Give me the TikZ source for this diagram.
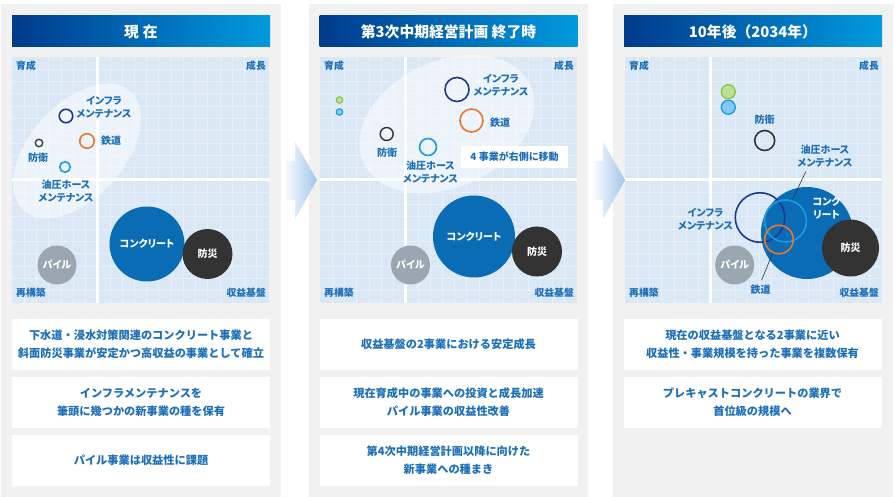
\documentclass[tikz,border=0pt]{standalone}
\usepackage{fontspec}
\setmainfont{Noto Sans CJK JP}
\newfontfamily\jpp{Noto Sans CJK JP}[RawFeature=+palt]
\definecolor{panelgray}{HTML}{F1F1F1}
\definecolor{chartbg}{HTML}{DAE8F6}
\definecolor{gridcol}{HTML}{E7F0FA}
\definecolor{tdark}{HTML}{003A8C}
\definecolor{tlight}{HTML}{009ADE}
\definecolor{txtblue}{HTML}{1D6FB7}
\definecolor{navyring}{HTML}{1E3A8A}
\definecolor{orangering}{HTML}{E8772E}
\definecolor{skyring}{HTML}{1B9BE0}
\definecolor{skyfill}{HTML}{85C8F0}
\definecolor{greenring}{HTML}{8CC63F}
\definecolor{greenfill}{HTML}{BCE09A}
\definecolor{blackring}{HTML}{333333}
\definecolor{concblue}{HTML}{0A6CB4}
\definecolor{disdark}{HTML}{333333}
\definecolor{pilegray}{HTML}{9AA7B2}
\definecolor{arrowblue}{HTML}{A3C6EC}
\definecolor{leadcol}{HTML}{333333}
\newcommand\titlefnt{\bfseries\fontsize{14.8}{17}\selectfont}
\newcommand\cornerfnt{\bfseries\fontsize{9.8}{12}\selectfont}
\newcommand\lblfnt{\jpp\bfseries\fontsize{10}{13}\selectfont}
\newcommand\boxfnt{\bfseries\fontsize{11.2}{18}\selectfont}
\newcommand\mychartgrid[2]{%
  \begin{scope}[shift={(#1,#2)}]
    \fill[chartbg] (0,0) rectangle (257,246);
    \foreach \i in {1,...,20} \draw[gridln] (\i*12.24,0) -- (\i*12.24,246);
    \foreach \j in {1,...,19} \draw[gridln] (0,\j*12.3) -- (257,\j*12.3);
    \fill[white] (84.2,0) rectangle (87.2,246);
    \fill[white] (0,121.5) rectangle (257,124.5);
  \end{scope}}
\tikzset{
  gridln/.style={draw=gridcol, line width=0.8pt},
  titlebar/.style={left color=tdark, right color=tlight, minimum width=258pt, minimum height=31pt, inner sep=0pt, text=white, font=\titlefnt},
  corner/.style={text=txtblue, font=\cornerfnt, inner sep=0pt},
  lbl/.style={text=txtblue, font=\lblfnt, align=center, inner sep=0pt},
  ring/.style={circle, draw, line width=1.6pt, inner sep=0pt},
  bubble/.style={circle, inner sep=0pt, text=white, font=\lblfnt, align=center},
  infobox/.style={fill=white, minimum width=258pt, minimum height=51pt, inner sep=0pt, text=txtblue, font=\boxfnt, align=center},
  leader/.style={draw=leadcol, line width=0.6pt},
  arrowshape/.style={left color=white, right color=arrowblue},
  movebox/.style={fill=white, minimum width=107pt, minimum height=22pt, inner sep=0pt, text=txtblue, font=\lblfnt},
}
\begin{document}
\begin{tikzpicture}[x=1pt,y=-1pt]
\useasboundingbox (0,0) rectangle (895,497);
\fill[white] (0,0) rectangle (895,497);
% panels
\fill[panelgray] (1,4) rectangle (281,497);
\fill[panelgray] (309,4) rectangle (588,497);
\fill[panelgray] (613,4) rectangle (893,497);
% arrows
\shade[arrowshape] (283,161) -- (295,161) -- (295,142) -- (317,180) -- (295,219) -- (295,200) -- (283,200) -- cycle;
\shade[arrowshape] (591,161) -- (603,161) -- (603,142) -- (625,180) -- (603,219) -- (603,200) -- (591,200) -- cycle;
% titles
\node[titlebar] (t1) at (141,31.5) {現\hspace{4pt}在};
\node[titlebar] (t2) at (448.5,31.5) {第3次中期経営計画 終了時};
\node[titlebar] (t3) at (753,31.5) {10年後（2034年）};
% charts
\mychartgrid{12}{57}
\mychartgrid{320}{57}
\mychartgrid{625}{57}
% corner labels
\node[corner, anchor=west] (c1a) at (16,66) {育成};
\node[corner, anchor=east] (c1b) at (266,66) {成長};
\node[corner, anchor=west] (c1c) at (16,293) {再構築};
\node[corner, anchor=east] (c1d) at (266,293) {収益基盤};
\node[corner, anchor=west] (c2a) at (324,66) {育成};
\node[corner, anchor=east] (c2b) at (574,66) {成長};
\node[corner, anchor=west] (c2c) at (324,293) {再構築};
\node[corner, anchor=east] (c2d) at (574,293) {収益基盤};
\node[corner, anchor=west] (c3a) at (629,66) {育成};
\node[corner, anchor=east] (c3b) at (879,66) {成長};
\node[corner, anchor=west] (c3c) at (629,293) {再構築};
\node[corner, anchor=east] (c3d) at (879,293) {収益基盤};
% ---------- panel 1 ----------
\fill[white, opacity=0.5, rotate around={48:(77,151)}] (77,151) ellipse [x radius=80pt, y radius=47pt];
\node[ring, draw=navyring, minimum size=13.5pt] (p1infra) at (66,116) {};
\node[lbl] (p1infraL) at (104,107) {インフラ\\メンテナンス};
\node[ring, draw=orangering, minimum size=14.5pt] (p1rail) at (87,141) {};
\node[lbl] (p1railL) at (111,141) {鉄道};
\node[ring, draw=blackring, line width=1.3pt, minimum size=7.5pt] (p1def) at (39,143) {};
\node[lbl] (p1defL) at (38,158) {防衛};
\node[ring, draw=skyring, minimum size=10.5pt] (p1oil) at (65,167) {};
\node[lbl] (p1oilL) at (66,191.5) {油圧ホース\\メンテナンス};
\node[bubble, fill=concblue, minimum size=75pt] (p1conc) at (147,244) {コンクリート};
\node[bubble, fill=disdark, minimum size=50pt] (p1dis) at (207.5,254) {防災};
\node[bubble, fill=pilegray, minimum size=39pt] (p1pile) at (57,265) {パイル};
% ---------- panel 2 ----------
\fill[white, opacity=0.5, rotate around={25:(447,124)}] (447,124) ellipse [x radius=92pt, y radius=63pt];
\node[ring, draw=greenring, fill=greenfill, line width=1.1pt, minimum size=6.5pt] (p2green) at (339.5,100) {};
\node[ring, draw=skyring, fill=skyfill, line width=1.1pt, minimum size=6.5pt] (p2blue) at (339.5,112) {};
\node[ring, draw=navyring, minimum size=24pt] (p2infra) at (457,89.5) {};
\node[lbl] (p2infraL) at (501,85) {インフラ\\メンテナンス};
\node[ring, draw=orangering, minimum size=23pt] (p2rail) at (471.5,120.5) {};
\node[lbl] (p2railL) at (500,123) {鉄道};
\node[ring, draw=blackring, line width=1.4pt, minimum size=13pt] (p2def) at (386.7,134) {};
\node[lbl] (p2defL) at (387,153) {防衛};
\node[ring, draw=skyring, minimum size=17pt] (p2oil) at (428,147) {};
\node[lbl] (p2oilL) at (430.5,172) {油圧ホース\\メンテナンス};
\node[movebox] (p2move) at (514.5,157) {4 事業が右側に移動};
\node[bubble, fill=concblue, minimum size=82pt] (p2conc) at (474,236.5) {コンクリート};
\node[bubble, fill=disdark, minimum size=50pt] (p2dis) at (537,251.5) {防災};
\node[bubble, fill=pilegray, minimum size=39pt] (p2pile) at (410.5,265) {パイル};
% ---------- panel 3 ----------
\node[ring, draw=greenring, fill=greenfill, line width=1.3pt, minimum size=14pt] (p3green) at (728.3,91.7) {};
\node[ring, draw=skyring, fill=skyfill, line width=1.3pt, minimum size=14pt] (p3blue) at (728.3,107.2) {};
\node[lbl] (p3defL) at (764.7,120) {防衛};
\node[ring, draw=blackring, minimum size=20pt] (p3def) at (764.7,140.5) {};
\node[bubble, fill=concblue, minimum size=92pt] (p3conc) at (807,233) {};
\node[lbl, text=white] (p3concT) at (826.5,208.5) {コンク\\リート};
\node[bubble, fill=disdark, minimum size=57pt] (p3dis) at (850.5,248) {防災};
\node[bubble, fill=pilegray, minimum size=39pt] (p3pile) at (734.7,265) {パイル};
\node[ring, draw=navyring, minimum size=49.5pt] (p3infra) at (760,217.5) {};
\node[lbl] (p3infraL) at (705.5,219) {インフラ\\メンテナンス};
\node[ring, draw=skyring, minimum size=42pt] (p3oil) at (785.5,221) {};
\node[lbl] (p3oilL) at (825,156.5) {油圧ホース\\メンテナンス};
\node[ring, draw=orangering, minimum size=28.5pt] (p3rail) at (779,239.5) {};
\node[lbl] (p3railL) at (760.7,289.3) {鉄道};
\coordinate (p3oilLead) at (805.7,171.7);
\coordinate (p3railLead) at (761.7,280);
\draw[leader] (p3oilLead) -- (p3oil.72);
\draw[leader] (p3rail.245) -- (p3railLead);
% ---------- bottom boxes ----------
\node[infobox] (b11) at (141,344.5) {下水道・浸水対策関連のコンクリート事業と\\斜面防災事業が安定かつ高収益の事業として確立};
\node[infobox] (b12) at (141,402.5) {インフラメンテナンスを\\筆頭に幾つかの新事業の種を保有};
\node[infobox] (b13) at (141,460.5) {パイル事業は収益性に課題};
\node[infobox] (b21) at (448.5,344.5) {収益基盤の2事業における安定成長};
\node[infobox] (b22) at (448.5,402.5) {現在育成中の事業への投資と成長加速\\パイル事業の収益性改善};
\node[infobox] (b23) at (448.5,460.5) {第4次中期経営計画以降に向けた\\新事業への種まき};
\node[infobox] (b31) at (752.5,344.5) {現在の収益基盤となる2事業に近い\\収益性・事業規模を持った事業を複数保有};
\node[infobox] (b32) at (752.5,402.5) {プレキャストコンクリートの業界で\\首位級の規模へ};
\end{tikzpicture}
\end{document}
